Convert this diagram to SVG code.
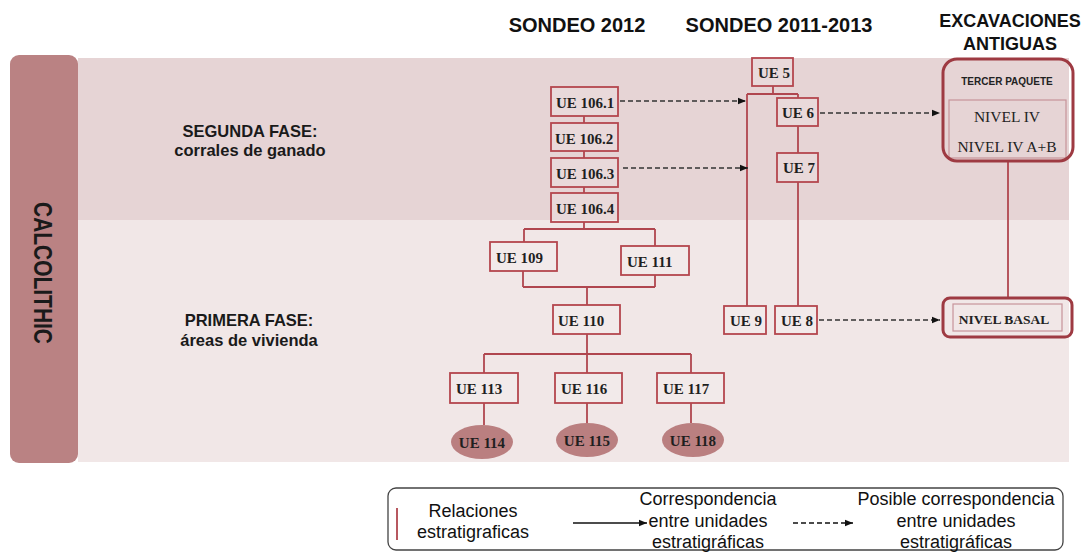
<svg xmlns="http://www.w3.org/2000/svg" width="1091" height="552" viewBox="0 0 1091 552">
<defs>
<style>
.hd{font-family:"Liberation Sans",Arial,sans-serif;font-weight:bold;fill:#111;text-anchor:middle}
.ph{font-family:"Liberation Sans",Arial,sans-serif;font-weight:bold;font-size:16.5px;fill:#1a1a1a;text-anchor:middle}
.box{fill:#ffffff;fill-opacity:0.12;stroke:#b4464e;stroke-width:1.8}
.ue{font-family:"Liberation Serif","Times New Roman",serif;font-weight:bold;font-size:15px;fill:#1f1f1f}
.uec{font-family:"Liberation Serif","Times New Roman",serif;font-weight:bold;font-size:15px;fill:#1f1f1f;text-anchor:middle}
.ell{fill:#ba7f80}
.rel{fill:none;stroke:#b0464f;stroke-width:1.8}
.dash{fill:none;stroke:#333;stroke-width:1.5;stroke-dasharray:5 3}
.grp{fill:none;stroke:#9e3a42;stroke-width:3}
.inner{fill:none;stroke:#c7939a;stroke-width:1.2}
.niv{font-family:"Liberation Serif","Times New Roman",serif;font-size:15.5px;fill:#222;text-anchor:middle}
.lg{font-family:"Liberation Sans",Arial,sans-serif;font-size:18px;fill:#111;text-anchor:middle}
</style>
<marker id="ah" viewBox="0 0 10 10" refX="10" refY="5" markerWidth="8" markerHeight="8" markerUnits="userSpaceOnUse" orient="auto">
<path d="M0,1 L10,5 L0,9 z" fill="#111"/>
</marker>
</defs>
<rect width="1091" height="552" fill="#ffffff"/>

<g id="bands">
<rect x="78" y="58" width="991" height="162" fill="#e6d4d5"/>
<rect x="78" y="220" width="991" height="242" fill="#f1e7e7"/>
</g>

<g id="calcolithic">
<rect x="10" y="55" width="68" height="408" rx="9" fill="#ba8283"/>
<text transform="translate(43,273) rotate(90)" text-anchor="middle" dominant-baseline="central" font-family="Liberation Sans, Arial, sans-serif" font-weight="bold" font-size="26" fill="#1a1a1a" textLength="142" lengthAdjust="spacingAndGlyphs">CALCOLITHIC</text>
</g>

<g id="headings">
<text class="hd" x="577" y="32" font-size="20">SONDEO 2012</text>
<text class="hd" x="779" y="32" font-size="20">SONDEO 2011-2013</text>
<text class="hd" x="1010" y="27" font-size="18">EXCAVACIONES</text>
<text class="hd" x="1010" y="50" font-size="18">ANTIGUAS</text>
</g>

<g id="phase-2">
<text class="ph" x="250" y="137">SEGUNDA FASE:</text>
<text class="ph" x="250" y="156">corrales de ganado</text>
</g>
<g id="phase-1">
<text class="ph" x="249" y="326">PRIMERA FASE:</text>
<text class="ph" x="249" y="346">áreas de vivienda</text>
</g>

<g id="connectors">
<path class="rel" d="M584,116 V123 M584,151 V158 M584,187 V193"/>
<path class="rel" d="M584,222 V229 M524,229 H655 M524,229 V242 M655,229 V246"/>
<path class="rel" d="M523,271 V287 M655,275 V287 M523,287 H655 M587,287 V305"/>
<path class="rel" d="M587,334 V354 M484,354 H691 M484,354 V373 M587,354 V373 M691,354 V373"/>
<path class="rel" d="M484,403 V425 M587,403 V423 M691,403 V423"/>
<path class="rel" d="M773,86 V94 M747,94 H798 M747,94 V306 M798,94 V98 M798,126 V153 M798,182 V306"/>
<path class="rel" d="M1008,161 V298"/>
<path class="dash" d="M620,101 H746" marker-end="url(#ah)"/>
<path class="dash" d="M623,168 H748" marker-end="url(#ah)"/>
<path class="dash" d="M820,113 H940" marker-end="url(#ah)"/>
<path class="dash" d="M819,320 H940" marker-end="url(#ah)"/>
</g>

<g id="ue-106-1"><rect class="box" x="551" y="87" width="67" height="29"/><text class="ue" x="556" y="108">UE 106.1</text></g>
<g id="ue-106-2"><rect class="box" x="551" y="123" width="67" height="28"/><text class="ue" x="555" y="144">UE 106.2</text></g>
<g id="ue-106-3"><rect class="box" x="551" y="158" width="67" height="29"/><text class="ue" x="556" y="179">UE 106.3</text></g>
<g id="ue-106-4"><rect class="box" x="551" y="193" width="67" height="29"/><text class="ue" x="556" y="214">UE 106.4</text></g>
<g id="ue-109"><rect class="box" x="490" y="242" width="67" height="29"/><text class="ue" x="496" y="263">UE 109</text></g>
<g id="ue-111"><rect class="box" x="621" y="246" width="68" height="29"/><text class="ue" x="627" y="267">UE 111</text></g>
<g id="ue-110"><rect class="box" x="553" y="305" width="67" height="29"/><text class="ue" x="558" y="326">UE 110</text></g>
<g id="ue-113"><rect class="box" x="450" y="373" width="68" height="30"/><text class="ue" x="456" y="394">UE 113</text></g>
<g id="ue-116"><rect class="box" x="555" y="373" width="67" height="30"/><text class="ue" x="561" y="394">UE 116</text></g>
<g id="ue-117"><rect class="box" x="657" y="373" width="67" height="30"/><text class="ue" x="663" y="394">UE 117</text></g>
<g id="ue-114"><ellipse class="ell" cx="482" cy="442" rx="31" ry="17"/><text class="uec" x="482" y="448">UE 114</text></g>
<g id="ue-115"><ellipse class="ell" cx="587" cy="440" rx="31" ry="17"/><text class="uec" x="587" y="446">UE 115</text></g>
<g id="ue-118"><ellipse class="ell" cx="693" cy="440" rx="31" ry="17"/><text class="uec" x="693" y="446">UE 118</text></g>

<g id="ue-5"><rect class="box" x="752" y="58" width="41" height="28"/><text class="ue" x="758" y="78">UE 5</text></g>
<g id="ue-6"><rect class="box" x="777" y="98" width="41" height="28"/><text class="ue" x="782" y="118">UE 6</text></g>
<g id="ue-7"><rect class="box" x="777" y="153" width="41" height="29"/><text class="ue" x="783" y="173">UE 7</text></g>
<g id="ue-9"><rect class="box" x="724" y="306" width="42" height="28"/><text class="ue" x="730" y="326">UE 9</text></g>
<g id="ue-8"><rect class="box" x="775" y="306" width="42" height="28"/><text class="ue" x="781" y="326">UE 8</text></g>

<g id="tercer-paquete">
<rect class="inner" x="949" y="100" width="117" height="58"/>
<rect class="grp" x="943" y="59" width="130" height="102" rx="14"/>
<text x="1007" y="85" text-anchor="middle" font-family="Liberation Sans, Arial, sans-serif" font-weight="bold" font-size="10" fill="#222">TERCER PAQUETE</text>
<text class="niv" x="1007" y="122">NIVEL IV</text>
<text class="niv" x="1007" y="152">NIVEL IV A+B</text>
</g>

<g id="nivel-basal">
<rect class="grp" x="943" y="298" width="129" height="39" rx="7"/>
<rect class="inner" x="953" y="304" width="109" height="27"/>
<text x="1004" y="324" text-anchor="middle" font-family="Liberation Serif, Times New Roman, serif" font-weight="bold" font-size="13.5" fill="#222">NIVEL BASAL</text>
</g>

<g id="legend">
<rect x="388" y="488" width="675" height="62" rx="8" fill="#ffffff" stroke="#444" stroke-width="1.3"/>
<path d="M397,508 V540" stroke="#b0464f" stroke-width="1.8"/>
<text class="lg" x="473" y="517">Relaciones</text>
<text class="lg" x="473" y="538">estratigraficas</text>
<path d="M573,523 H647" stroke="#111" stroke-width="1.3" fill="none" marker-end="url(#ah)"/>
<text class="lg" x="708" y="505">Correspondencia</text>
<text class="lg" x="708" y="527">entre unidades</text>
<text class="lg" x="708" y="548">estratigráficas</text>
<path d="M793,523 H853" stroke="#111" stroke-width="1.3" stroke-dasharray="5 3" fill="none" marker-end="url(#ah)"/>
<text class="lg" x="956" y="505">Posible correspondencia</text>
<text class="lg" x="956" y="527">entre unidades</text>
<text class="lg" x="956" y="548">estratigráficas</text>
</g>
</svg>
